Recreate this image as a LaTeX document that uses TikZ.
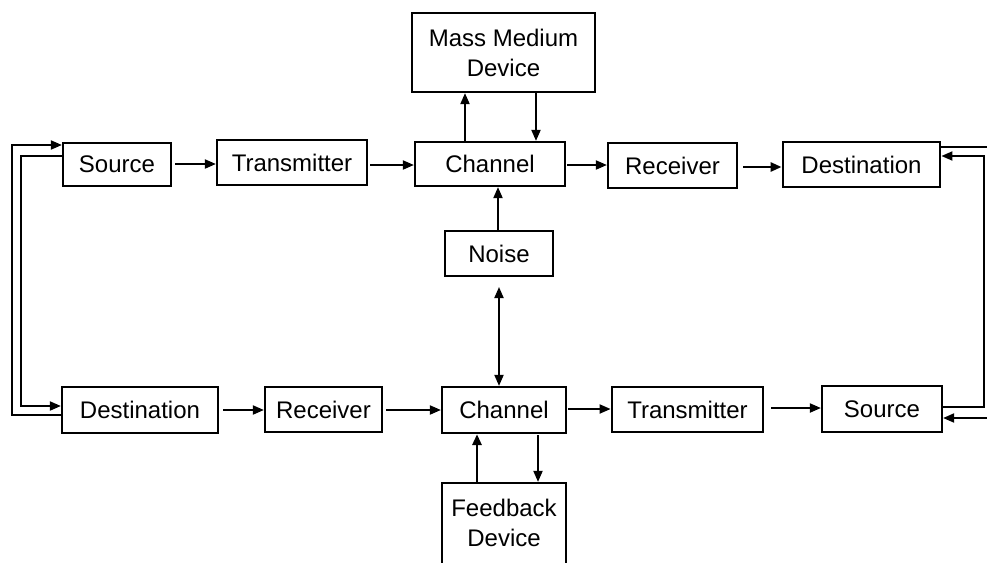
\documentclass[tikz,border=0pt]{standalone}
\usepackage{fontspec}
\setmainfont{Liberation Sans}
\usetikzlibrary{arrows.meta}

\tikzset{
  blk/.style={draw=black, line width=2.2pt, inner sep=0pt, minimum width=#1,
              font=\fontsize{24}{30}\selectfont, align=center},
  blk/.default=100pt,
  bold/.style={line width=2.8pt},
  tip/.tip={Triangle[length=11pt,width=9pt]},
  link/.style={draw=black, line width=1.9pt, -tip},
  plain/.style={draw=black, line width=1.9pt},
}

\begin{document}
\begin{tikzpicture}[x=1pt, y=-1pt]
  \useasboundingbox (0,0) rectangle (987,562);
  \clip (0,0) rectangle (987,562);

  % upper chain
  \node[blk=108pt, minimum height=43pt] (src1) at (117,164.5) {Source};
  \node[blk=150pt, minimum height=45pt] (tx1)  at (292,162.5) {Transmitter};
  \node[blk=150pt, minimum height=44pt] (ch1)  at (490,164)   {Channel};
  \node[blk=129pt, minimum height=45pt] (rx1)  at (672.5,165.5) {Receiver};
  \node[blk=157pt, minimum height=45pt, bold] (dst1) at (861.5,164.5) {Destination};

  % medium and noise
  \node[blk=183pt, minimum height=79pt] (mmd) at (503.5,52.5) {Mass Medium\\Device};
  \node[blk=108pt, minimum height=45pt] (noise) at (499,253.5) {Noise};

  % lower chain
  \node[blk=156pt, minimum height=46pt] (dst2) at (140,410)   {Destination};
  \node[blk=117pt, minimum height=45pt] (rx2)  at (323.5,409.5) {Receiver};
  \node[blk=124pt, minimum height=46pt] (ch2)  at (504,410)   {Channel};
  \node[blk=151pt, minimum height=45pt, bold] (tx2) at (687.5,409.5) {Transmitter};
  \node[blk=120pt, minimum height=46pt] (src2) at (882,409)   {Source};

  % feedback device, running past the lower edge
  \node[blk=124pt, minimum height=117pt] (fb) at (504,541.5) {};
  \node[font=\fontsize{24}{30}\selectfont, align=center, inner sep=0pt]
       (fbtext) at (504,523) {Feedback\\Device};

  % upper chain connectors
  \draw[link] (src1.east |- 0,164) ++(3,0) -- (tx1.west |- 0,164);
  \draw[link] (tx1.east |- 0,165) ++(2,0) -- (ch1.west |- 0,165);
  \draw[link] (ch1.east |- 0,165) ++(1,0) -- (rx1.west |- 0,165);
  \draw[link, line width=2.6pt] (rx1.east |- 0,167) ++(5,0) -- (dst1.west |- 0,167);

  % channel to mass medium and back
  \draw[link] (ch1.north -| 465,0) -- (mmd.south -| 465,0);
  \draw[link] (mmd.south -| 536,0) -- (ch1.north -| 536,0);

  % noise
  \draw[link] (noise.north -| 498,0) -- (ch1.south -| 498,0);
  \draw[link, tip-tip] (499,287) -- (ch2.north -| 499,0);

  % lower chain connectors
  \draw[link] (dst2.east |- 0,410) ++(4,0) -- (rx2.west |- 0,410);
  \draw[link] (rx2.east |- 0,410) ++(3,0) -- (ch2.west |- 0,410);
  \draw[link] (ch2.east |- 0,409) ++(1,0) -- (tx2.west |- 0,409);
  \draw[link] (tx2.east |- 0,408) ++(7,0) -- (src2.west |- 0,408);

  % channel to feedback device and back
  \draw[link, line width=2.8pt] (fb.north -| 477,0) -- (ch2.south -| 477,0);
  \draw[link] (ch2.south -| 538,0) ++(0,1) -- (fb.north -| 538,0);

  % left-hand loops
  \coordinate (lo1) at (12,415);
  \coordinate (lo2) at (12,145);
  \draw[link] (dst2.west |- lo1) -- (lo1) -- (lo2) -- (src1.west |- lo2);
  \coordinate (li1) at (21,156);
  \coordinate (li2) at (21,406);
  \draw[link] (src1.west |- li1) -- (li1) -- (li2) -- (dst2.west |- li2);

  % right-hand loops
  \coordinate (ro1) at (995,147);
  \draw[plain] (dst1.east |- ro1) -- (ro1);
  \coordinate (ro2) at (995,418);
  \draw[link] (ro2) -- (src2.east |- ro2);
  \coordinate (ri1) at (984,407);
  \coordinate (ri2) at (984,156);
  \draw[link] (src2.east |- ri1) ++(-2,0) -- (ri1) -- (ri2) -- (dst1.east |- ri2);
\end{tikzpicture}
\end{document}
